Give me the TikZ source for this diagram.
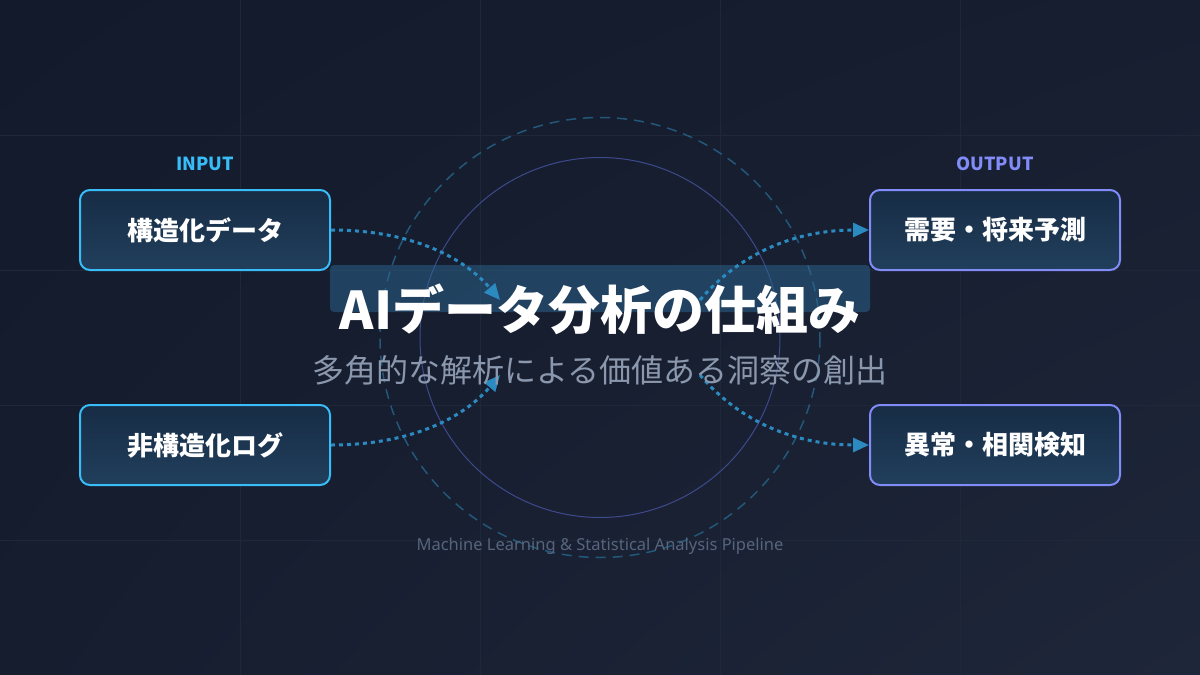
\documentclass[tikz,border=0pt]{standalone}
\usepackage{fontspec}
\setmainfont{Noto Sans CJK JP}
\newfontfamily\latinfont{Noto Sans}
\usetikzlibrary{arrows.meta,positioning,shadings}

\definecolor{bgtl}{HTML}{131A2B}
\definecolor{bgtr}{HTML}{171E30}
\definecolor{bgbl}{HTML}{161D2F}
\definecolor{bgbr}{HTML}{1E2639}
\definecolor{gridcol}{HTML}{1F2839}
\definecolor{boxtop}{HTML}{172C45}
\definecolor{boxbot}{HTML}{213F5C}
\definecolor{inputcol}{HTML}{38BDF8}
\definecolor{outputcol}{HTML}{818CF8}
\definecolor{flowcol}{HTML}{2B8BC0}
\definecolor{ringin}{HTML}{3D4A8C}
\definecolor{ringout}{HTML}{23587A}
\definecolor{bandcol}{HTML}{2B6690}
\definecolor{subcol}{HTML}{8A97AC}
\definecolor{footcol}{HTML}{56657D}

\begin{document}
\begin{tikzpicture}[x=1pt,y=-1pt,
	box/.style={draw,rounded corners=10pt,line width=2pt,minimum width=250pt,minimum height=80pt,top color=boxtop,bottom color=boxbot,text=white,font=\fontsize{26}{30}\selectfont\bfseries},
	sidelabel/.style={anchor=base,font=\fontsize{18}{22}\selectfont\bfseries},
	flow/.style={flowcol,line width=3pt,dash pattern=on 4pt off 4pt,-{Triangle[length=16pt,width=14pt]}}]
	% draw background
	\useasboundingbox (0,0) rectangle (1200,675);
	\shade[upper left=bgtl,upper right=bgtr,lower left=bgbl,lower right=bgbr] (0,0) rectangle (1200,675);
	\foreach \gx in {240,480,720,960}
	\draw[gridcol,line width=1pt] (\gx,0) -- (\gx,675);
	\foreach \gy in {135,270,405,540}
	\draw[gridcol,line width=1pt] (0,\gy) -- (1200,\gy);
	% draw rings
	\draw[ringin,line width=1pt] (600,337.5) circle (180);
	\draw[ringout,line width=1.5pt,dash pattern=on 10pt off 7pt] (600,337.5) circle (220);
	\node[fill=bandcol,fill opacity=.5,rounded corners=4pt,minimum width=540pt,minimum height=47pt] (band) at (600,288.5) {};
	% draw inputs and outputs
	\node[sidelabel,text=inputcol] (inlabel) at (205,170) {INPUT};
	\node[sidelabel,text=outputcol] (outlabel) at (995,170) {OUTPUT};
	\node[box,draw=inputcol] (struct) at (205,230) {構造化データ};
	\node[box,draw=inputcol] (unstruct) at (205,445) {非構造化ログ};
	\node[box,draw=outputcol] (forecast) at (995,230) {需要・将来予測};
	\node[box,draw=outputcol] (anomaly) at (995,445) {異常・相関検知};
	% draw flows
	\coordinate (hubinA) at (500,300);
	\coordinate (hubinB) at (500,375);
	\coordinate (huboutA) at (700,300);
	\coordinate (huboutB) at (700,375);
	\draw[flow] (struct.east) .. controls +(73,0) and +(-40,-47) .. (hubinA);
	\draw[flow] (unstruct.east) .. controls +(73,0) and +(-40,47) .. (hubinB);
	\draw[flow] (huboutA) .. controls +(40,-47) and +(-73,0) .. (forecast.west);
	\draw[flow] (huboutB) .. controls +(40,47) and +(-73,0) .. (anomaly.west);
	% draw titles
	\node[anchor=base,text=white,font=\fontsize{52}{60}\selectfont\bfseries] (title) at (600,329) {AIデータ分析の仕組み};
	\node[anchor=base,text=subcol,font=\fontsize{32}{38}\selectfont] (subtitle) at (600,382) {多角的な解析による価値ある洞察の創出};
	\node[anchor=base,text=footcol,font=\latinfont\fontsize{16.5}{20}\selectfont] (footer) at (600,550) {Machine Learning \& Statistical Analysis Pipeline};
\end{tikzpicture}
\end{document}
